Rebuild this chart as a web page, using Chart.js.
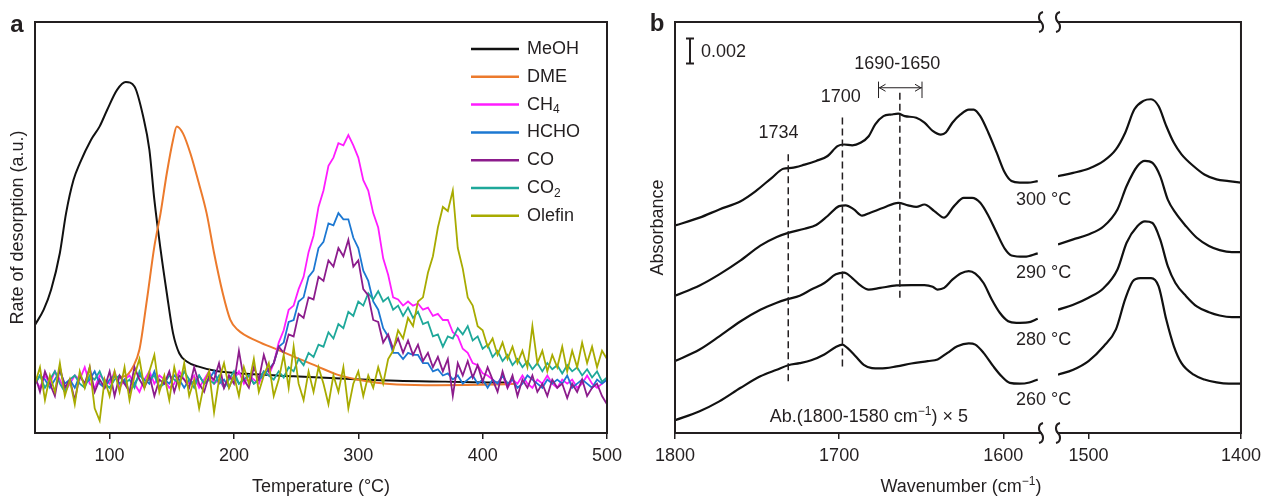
<!DOCTYPE html>
<html>
<head>
<meta charset="utf-8">
<script src="https://cdn.jsdelivr.net/npm/chart.js@4.4.1/dist/chart.umd.min.js"></script>
<style>
  body { margin: 0; background: #fff; }
  #fig { position: relative; width: 1267px; height: 496px; overflow: hidden; }
  canvas { position: absolute; top: 0; }
</style>
</head>
<body>
<div id="fig">
  <canvas id="tpd" width="640" height="496" style="left:0"></canvas>
  <canvas id="irLeft" width="440" height="496" style="left:640px"></canvas>
  <canvas id="irRight" width="217" height="496" style="left:1050px"></canvas>
</div>
<script>
// ---------- panel a : desorption profiles ----------
const tempTicks = [100, 200, 300, 400, 500];
const tempGrid = [40,44,48,52,56,60,64,68,72,76,80,84,88,92,96,100,104,108,112,116,120,124,128,132,136,140,144,148,152,156,160,164,168,172,176,180,184,188,192,196,200,204,208,212,216,220,224,228,232,236,240,244,248,252,256,260,264,268,272,276,280,284,288,292,296,300,304,308,312,316,320,324,328,332,336,340,344,348,352,356,360,364,368,372,376,380,384,388,392,396,400,404,408,412,416,420,424,428,432,436,440,444,448,452,456,460,464,468,472,476,480,484,488,492,496,500];

const meohT = [40,47,53,60,65,71,76,85,92,98,106,113,120,127,132,136,141,146,151,156,162,171,187,210,248,290,331,370,411,420];
const meohY = [26.3,30,34.9,43.8,53.5,61.6,65.6,71.3,74.6,78.6,83.5,85.4,84.3,77,68.9,56.7,44.6,34,24.3,19.4,17.4,16.2,15,14.4,13.8,13.2,12.7,12.5,12.3,12.3];

const dmeT = [100,112,119,124,130,136,141,146,151,154,159,165,171,178,184,191,197,203,219,235,251,267,283,299,315,331,363,411,427];
const dmeY = [13.5,13.8,16.2,20.3,32.4,45.4,53.5,63.2,71.3,74.6,72.9,68,61.6,53.5,43.8,34,27.6,25.1,22.3,20.3,18.2,16.2,14.2,13,12.2,11.8,11.6,11.8,12];

const ch4Y = [13,11,14,12,15,13,10,12,14,13,16,12,11,14,13,12,15,11,13,14,12,10,13,15,12,14,13,11,12,15,13,12,14,11,13,15,12,13,11,14,13,15,12,14,13,12,15,14,
  17,22,25,30,31,35,38,44,48,55,59,65,67,70.5,70,72.5,70,67,61.5,59,53.5,50,42.5,38.5,33,32.5,31,32,31,31.5,30,30.5,28.5,29,27.5,27.5,24.5,23.5,20.5,19.5,17,16.5,14.5,14,
  13,12,14,11,13,12,14,12,11,13,12,14,12,11,13,12,13,11,12,14,12,11,12,13];

const hchoY = [12,14,13,11,13,15,12,13,11,14,12,13,15,12,11,13,14,12,13,10,12,14,13,12,15,11,13,12,14,13,11,13,12,14,12,13,15,12,13,11,14,12,13,14,12,13,14,
  15.5,17,21,22,27,27.5,32,33,38,39.5,45,46.5,51,50.5,53.5,52,52,47.5,45,39.5,37,32,30,25.5,23.5,19.5,19.5,18,19.5,19,19,17,17,15,15.5,14,14.5,13,14,
  12,13,14,12,13,11,13,12,14,12,13,11,12,14,13,12,11,13,12,13,12,14,11,12,13,12,11,13,12,13];

const coY = [14,10,15,12,9,16,11,13,8,14,12,16,10,13,11,15,9,14,12,10,16,13,11,14,9,13,12,15,10,14,13,11,16,12,10,14,13,17,11,14,
  12,20,13,11,16,13,19,15,
  17,21,19.5,24,23.5,29,28,33,32.5,38,37,42,40.5,45,43,47,40.5,42,35,33.5,27.5,27,22,24,20.5,23,19.5,22.5,19,21.5,17.5,19.5,16,18.5,15,18,9,17,14,17.5,13.5,16.5,12.5,16,
  13,10,15,11,14,9,13,11,14,10,12,9,13,11,12,8.5,12,10,13,9,11,12,9,7];

const co2Y = [12,14,11,13,15,12,10,13,14,12,11,14,13,15,12,11,13,14,12,13,11,15,12,13,14,11,12,14,13,12,15,13,11,14,12,13,12,14,11,13,15,12,13,14,12,13,15,14,13,
  15,13.5,16,15,18,16.5,19.5,18.5,21.5,21,24.5,23,26.5,25.5,29.5,28.5,32,31,34,32.5,34.5,32,33,30,31,28.5,30.5,28,29.5,26.5,27,23.5,24,21,23.5,23,25.5,24,26,22.5,
  23.5,20.5,21.5,18.5,20,17.5,19,16.5,18,16,17.5,15.5,17,15,17,15.5,16.5,14.5,16.5,15,16,14,15.5,13.5,15,12.5,13.5];

const olefinY = [12,16,8,14,10,17,9,13,7,15,11,16,6,3,13,9,15,10,16,8,14,18,11,15,19,10,14,8,16,11,17,9,13,6,12,15,5,13,17,11,
  14,9,16,12,18,10,14,17,9,13,19,11,21,12,8,15,10,16,12,7,14,10,16,6,12,15,9,14,11,16,
  12,18,20,25,23,28,26,32,33,39,43,50,55,54,59,45,40,33,31,26,25,21,23,19,22,18,21,17,20,16,
  26,17,20,15,19,16,21,15,20,16,22,17,21,16,20,18];

const seriesNames = ['MeOH', 'DME', 'CH₄', 'HCHO', 'CO', 'CO₂', 'Olefin'];
const seriesColors = ['#111111', '#ec7a2c', '#ff1cff', '#1c78d2', '#8c1c8c', '#1ea89a', '#a8ab00'];

// ---------- panel b : IR spectra ----------
const wnTicksLeft = [1800, 1700, 1600];
const wnTicksRight = [1500, 1400];
const tempLabels = ['300 °C', '290 °C', '280 °C', '260 °C'];
const tempLabelY = [56.7, 38.9, 22.6, 8.0];

const wn300L = [1800,1785,1773,1760,1751,1741,1734,1729,1721,1714,1707,1701,1697,1692,1687,1682,1678,1673,1668,1664,1660,1653,1648,1643,1638,1635,1631,1626,1621,1618,1614,1609,1604,1599,1595,1590,1585,1579];
const ab300L = [50.5,52.4,54.4,56.4,58.8,62.1,64.3,64.5,65.3,66.2,67.4,69.8,70.2,70,70.6,72.2,75.1,77.1,77.5,77.7,77.1,76.7,75.5,73.5,72.6,73.1,75.5,77.5,78.7,78.7,77.1,73,68.2,63.3,61.3,60.9,60.9,61.3];
const wn290L = [1800,1785,1773,1760,1748,1738,1731,1721,1714,1707,1700,1696,1691,1686,1681,1673,1664,1658,1653,1648,1642,1636,1630,1624,1619,1614,1609,1604,1599,1595,1587,1579];
const ab290L = [33.4,35.9,38.6,42,45.6,47.7,48.7,49.7,50.6,52.8,55.2,55.4,54.4,52.9,53.6,54.8,56,55.4,55,55.6,54,52.4,55.2,57.2,57.2,56,52.8,48.7,44.8,43.2,42.9,43.7];
const wn280L = [1800,1785,1773,1760,1748,1738,1732,1724,1717,1709,1702,1697,1692,1687,1682,1675,1665,1656,1648,1643,1640,1636,1631,1626,1621,1617,1612,1607,1602,1597,1592,1585,1579];
const ab280L = [17.5,20.3,23.5,27.2,30,31.7,32.5,33.4,34.9,36.5,38.6,39,37.7,35.9,34.9,35.3,35.9,36,36,35.6,34.9,35.3,37.3,38.8,39.4,38.8,36.5,32.5,29.2,27.2,26.8,26.9,27.8];
const wn260L = [1800,1785,1773,1760,1748,1738,1731,1724,1717,1709,1702,1698,1695,1690,1685,1680,1675,1665,1656,1646,1640,1634,1628,1621,1617,1612,1606,1601,1596,1590,1584,1579];
const ab260L = [3.1,5.3,7.7,11,13.8,15.4,16.5,17,17.7,19.1,20.9,21.5,20.7,18.7,16.6,15.8,15.7,16.2,16.9,17.5,17.9,19.5,21.1,21.8,21.5,19.5,16.2,13.8,12.2,12,12.3,13];

const wn300R = [1520,1510,1500,1490,1482,1476,1470,1464,1459,1454,1449,1444,1439,1431,1424,1416,1408,1400];
const ab300R = [62.5,63.3,64.3,66.2,69,73,78.7,80.8,81.2,79.5,74.7,70.6,67.8,64.9,62.9,61.7,61.3,60.9];
const wn290R = [1520,1510,1500,1490,1481,1475,1468,1463,1458,1453,1448,1443,1436,1429,1421,1414,1406,1400];
const ab290R = [45.9,47.1,48.3,50.3,54.4,60.1,64.9,66.2,65.7,62.5,56.8,53.6,50.3,47.5,45.5,44.5,44,44];
const wn280R = [1520,1510,1500,1490,1481,1475,1468,1463,1458,1453,1448,1443,1436,1429,1421,1414,1406,1400];
const ab280R = [30,31.2,32.9,35.3,39.8,46.3,50.3,51.5,51.1,47.1,40.6,36.5,33.3,30.8,29.4,28.6,28.2,28.2];
const wn260R = [1520,1510,1500,1490,1482,1476,1471,1466,1459,1454,1449,1444,1439,1431,1424,1416,1408,1400];
const ab260R = [14.2,15.4,17.5,21.1,25.2,32.5,36.9,37.7,37.7,35.7,27.6,21.1,17,14.2,13,12.3,12,12];

// dashed guide lines and their labels
const markerLines = [{ wn: 1731, from: 12.6, to: 68.2 }, { wn: 1698, from: 16.2, to: 77.5 }, { wn: 1663, from: 32.9, to: 83.2 }];
const markerLabels = [{ text: '1734', wn: 1737, y: 73 }, { text: '1700', wn: 1699, y: 81.8 }, { text: '1690-1650', wn: 1664.6, y: 89.8 }];

// ---------- helpers ----------
const textColor = '#231f20';
const fontFamily = '"Liberation Sans", Arial, Helvetica, sans-serif';
Chart.defaults.font.family = fontFamily;
Chart.defaults.color = textColor;

const SUB = '₀₁₂₃₄₅₆₇₈₉';
const SUP = '⁰¹²³⁴⁵⁶⁷⁸⁹⁻';

// text with sub/superscript digits
function drawRich(ctx, str, x, y, size, align, weight) {
  const runs = [];
  for (const ch of str) {
    let kind = 0, c = ch, k = SUB.indexOf(ch);
    if (k >= 0) { kind = 1; c = String(k); }
    else {
      k = SUP.indexOf(ch);
      if (k >= 0) { kind = 2; c = k === 10 ? '−' : String(k); }
    }
    const last = runs[runs.length - 1];
    if (last && last.kind === kind) last.text += c; else runs.push({ kind, text: c });
  }
  const small = Math.round(size * 0.68);
  const fontFor = r => `${weight || 'normal'} ${r.kind ? small : size}px ${fontFamily}`;
  let total = 0;
  runs.forEach(r => { ctx.font = fontFor(r); r.w = ctx.measureText(r.text).width; total += r.w; });
  let cx = align === 'center' ? x - total / 2 : align === 'right' ? x - total : x;
  ctx.save();
  ctx.fillStyle = textColor;
  ctx.textAlign = 'left';
  ctx.textBaseline = 'middle';
  runs.forEach(r => {
    ctx.font = fontFor(r);
    const dy = r.kind === 1 ? size * 0.3 : r.kind === 2 ? -size * 0.3 : 0;
    ctx.fillText(r.text, cx, y + dy);
    cx += r.w;
  });
  ctx.restore();
}

function drawFrame(ctx, a, sides) {
  ctx.save();
  ctx.strokeStyle = textColor;
  ctx.lineWidth = 2;
  ctx.lineCap = 'square';
  ctx.beginPath();
  if (sides.includes('top')) { ctx.moveTo(a.left, a.top); ctx.lineTo(a.right, a.top); }
  if (sides.includes('bottom')) { ctx.moveTo(a.left, a.bottom); ctx.lineTo(a.right, a.bottom); }
  if (sides.includes('left')) { ctx.moveTo(a.left, a.top); ctx.lineTo(a.left, a.bottom); }
  if (sides.includes('right')) { ctx.moveTo(a.right, a.top); ctx.lineTo(a.right, a.bottom); }
  ctx.stroke();
  ctx.restore();
}

// axis break mark
function squiggle(ctx, x, y) {
  ctx.save();
  ctx.strokeStyle = textColor;
  ctx.lineWidth = 2;
  ctx.beginPath();
  ctx.moveTo(x + 2, y - 10);
  ctx.bezierCurveTo(x - 3, y - 9, x - 3, y - 3, x, y);
  ctx.bezierCurveTo(x + 3, y + 3, x + 3, y + 9, x - 2, y + 10);
  ctx.stroke();
  ctx.restore();
}

const pts = (xs, ys) => xs.map((x, i) => ({ x, y: ys[i] }));

function xScale(min, max, ticks, reverse, titleText) {
  return {
    type: 'linear', min, max, reverse,
    afterBuildTicks: s => { s.ticks = ticks.map(v => ({ value: v })); },
    afterFit: s => { s.height = 63; },
    grid: { display: true, drawOnChartArea: false, drawTicks: true, tickLength: 6, color: textColor, lineWidth: 1.5 },
    border: { display: false },
    ticks: { font: { size: 18 }, color: textColor, padding: 6, maxRotation: 0, autoSkip: false, callback: v => String(v) },
    title: { display: !!titleText, text: titleText || '', font: { size: 18, lineHeight: 1 }, color: textColor, padding: 0 }
  };
}

function yScale(titleText) {
  return {
    min: 0, max: 100,
    display: !!titleText,
    afterFit: s => { s.width = titleText ? 35 : 0; },
    grid: { display: false }, border: { display: false }, ticks: { display: false },
    title: { display: !!titleText, text: titleText || '', font: { size: 18, lineHeight: 1 }, color: textColor, padding: { top: 9, bottom: 0 } }
  };
}

const basePlugins = { legend: { display: false }, tooltip: { enabled: false } };

// ---------- chart a ----------
const tpdX = [meohT, dmeT, tempGrid, tempGrid, tempGrid, tempGrid, tempGrid];
const tpdY = [meohY, dmeY, ch4Y, hchoY, coY, co2Y, olefinY];
const drawOrder = [7, 6, 5, 4, 2, 3, 1];

const tpdExtras = {
  id: 'tpdExtras',
  afterDraw(chart) {
    const { ctx, chartArea: a } = chart;
    drawFrame(ctx, a, ['top', 'right', 'bottom', 'left']);
    chart.data.datasets.forEach((ds, i) => {
      const yy = a.top + 27 + i * 27.8;
      ctx.save();
      ctx.strokeStyle = ds.borderColor;
      ctx.lineWidth = 2.5;
      ctx.beginPath();
      ctx.moveTo(a.right - 136, yy);
      ctx.lineTo(a.right - 88, yy);
      ctx.stroke();
      ctx.restore();
      drawRich(ctx, ds.label, a.right - 80, yy, 18, 'left');
    });
    drawRich(ctx, 'a', 17, 25, 24, 'center', 'bold');
  }
};

new Chart(document.getElementById('tpd'), {
  type: 'line',
  data: {
    datasets: seriesNames.map((name, i) => ({
      label: name,
      data: pts(tpdX[i], tpdY[i]),
      borderColor: seriesColors[i],
      borderWidth: i < 2 ? 2 : 1.8,
      pointRadius: 0,
      cubicInterpolationMode: i < 2 ? 'monotone' : 'default',
      tension: 0,
      order: drawOrder[i]
    }))
  },
  options: {
    responsive: false, animation: false, devicePixelRatio: 1,
    layout: { padding: { top: 22, right: 33, left: 0, bottom: 0 } },
    scales: { x: xScale(40, 500, tempTicks, false, 'Temperature (°C)'), y: yScale('Rate of desorption (a.u.)') },
    plugins: basePlugins
  },
  plugins: [tpdExtras]
});

// ---------- chart b, left segment ----------
const irTitleX = 321;

const irLeftExtras = {
  id: 'irLeftExtras',
  afterDraw(chart) {
    const { ctx, chartArea: a, scales: { x, y } } = chart;
    drawFrame(ctx, a, ['left', 'top', 'bottom']);
    squiggle(ctx, a.right, a.top);
    squiggle(ctx, a.right, a.bottom);

    ctx.save();
    ctx.strokeStyle = textColor;
    ctx.lineWidth = 1.5;
    ctx.setLineDash([7, 4]);
    markerLines.forEach(m => {
      const px = x.getPixelForValue(m.wn);
      ctx.beginPath();
      ctx.moveTo(px, y.getPixelForValue(m.from));
      ctx.lineTo(px, y.getPixelForValue(m.to));
      ctx.stroke();
    });
    ctx.restore();

    markerLabels.forEach(m => drawRich(ctx, m.text, x.getPixelForValue(m.wn), y.getPixelForValue(m.y), 18, 'center'));

    // range arrow 1690-1650
    const x1 = x.getPixelForValue(1676), x2 = x.getPixelForValue(1649.5);
    const ay = y.getPixelForValue(84), c1 = y.getPixelForValue(85.5), c2 = y.getPixelForValue(81.5);
    ctx.save();
    ctx.strokeStyle = textColor;
    ctx.lineWidth = 1;
    ctx.beginPath();
    ctx.moveTo(x1, ay); ctx.lineTo(x2, ay);
    ctx.moveTo(x1, c1); ctx.lineTo(x1, c2);
    ctx.moveTo(x2, c1); ctx.lineTo(x2, c2);
    ctx.moveTo(x1 + 7, ay - 3.5); ctx.lineTo(x1 + 1, ay); ctx.lineTo(x1 + 7, ay + 3.5);
    ctx.moveTo(x2 - 7, ay - 3.5); ctx.lineTo(x2 - 1, ay); ctx.lineTo(x2 - 7, ay + 3.5);
    ctx.stroke();
    ctx.restore();

    // scale bar
    const bx = a.left + 15, b1 = y.getPixelForValue(96), b2 = y.getPixelForValue(89.9);
    ctx.save();
    ctx.strokeStyle = textColor;
    ctx.lineWidth = 2;
    ctx.beginPath();
    ctx.moveTo(bx, b1); ctx.lineTo(bx, b2);
    ctx.moveTo(bx - 4, b1); ctx.lineTo(bx + 4, b1);
    ctx.moveTo(bx - 4, b2); ctx.lineTo(bx + 4, b2);
    ctx.stroke();
    ctx.restore();
    drawRich(ctx, '0.002', a.left + 26, y.getPixelForValue(92.8), 18, 'left');

    tempLabels.forEach((t, i) => drawRich(ctx, t, a.right - 25, y.getPixelForValue(tempLabelY[i]), 18, 'left'));
    drawRich(ctx, 'Ab.(1800-1580 cm⁻¹) × 5', x.getPixelForValue(1681.9), y.getPixelForValue(3.9), 18, 'center');
    drawRich(ctx, 'Wavenumber (cm⁻¹)', irTitleX, 487, 18, 'center');
    drawRich(ctx, 'b', 17, 24, 24, 'center', 'bold');
  }
};

function irDatasets(xs, ys) {
  return xs.map((wx, i) => ({
    data: pts(wx, ys[i]),
    borderColor: '#111111',
    borderWidth: 2.2,
    pointRadius: 0,
    cubicInterpolationMode: 'monotone'
  }));
}

new Chart(document.getElementById('irLeft'), {
  type: 'line',
  data: { datasets: irDatasets([wn300L, wn290L, wn280L, wn260L], [ab300L, ab290L, ab280L, ab260L]) },
  options: {
    responsive: false, animation: false, devicePixelRatio: 1,
    layout: { padding: { top: 22, right: 39, left: 0, bottom: 0 } },
    scales: { x: xScale(1577, 1800, wnTicksLeft, true, ''), y: yScale('Absorbance') },
    plugins: basePlugins
  },
  plugins: [irLeftExtras]
});

// ---------- chart b, right segment ----------
const irRightExtras = {
  id: 'irRightExtras',
  afterDraw(chart) {
    const { ctx, chartArea: a } = chart;
    drawFrame(ctx, a, ['top', 'bottom', 'right']);
    squiggle(ctx, a.left, a.top);
    squiggle(ctx, a.left, a.bottom);
  }
};

new Chart(document.getElementById('irRight'), {
  type: 'line',
  data: { datasets: irDatasets([wn300R, wn290R, wn280R, wn260R], [ab300R, ab290R, ab280R, ab260R]) },
  options: {
    responsive: false, animation: false, devicePixelRatio: 1,
    layout: { padding: { top: 22, right: 19, left: 8, bottom: 0 } },
    scales: { x: xScale(1400, 1520, wnTicksRight, true, ''), y: yScale('') },
    plugins: basePlugins
  },
  plugins: [irRightExtras]
});
</script>
</body>
</html>
